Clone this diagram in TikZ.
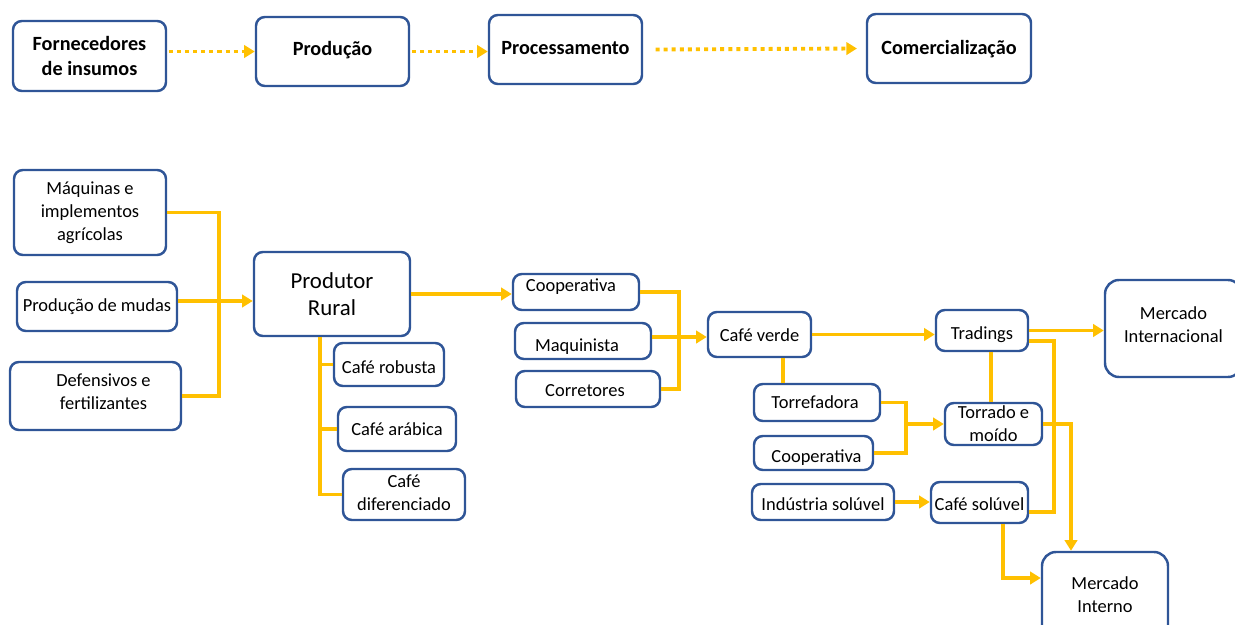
\documentclass[tikz,border=0pt]{standalone}
\usepackage{fontspec}
\setmainfont{Carlito}
\usetikzlibrary{arrows.meta}
\definecolor{bblue}{HTML}{2F5597}
\definecolor{cyel}{HTML}{FFC000}
% \bx[opts]{name}{x1}{y1}{x2}{y2}{text}{dx}{dy}
\newcommand\bx[9][]{%
  \node[box,#1,minimum width={(#5-#3)*0.02cm},minimum height={(#6-#4)*0.02cm}] (#2) at ({(#3+#5)/2},{(#4+#6)/2}) {};
  \node[txt,#1] (#2-t) at ({(#3+#5)/2+#8},{(#4+#6)/2+#9}) {#7};}
\tikzset{
  box/.style={draw=bblue,line width=1.4pt,rounded corners=5pt,fill=white,inner sep=0pt},
  txt/.style={align=center,inner sep=0pt,font=\fontsize{10.5}{13}\selectfont},
  top/.style={font=\fontsize{11.5}{14}\selectfont\bfseries},
  big/.style={rounded corners=8pt},
  con/.style={draw=cyel,line width=2pt},
  arr/.style={con,-{Triangle[length=6pt,width=7pt]}},
  dot/.style={draw=cyel,line width=2.2pt,dash pattern=on 2.3pt off 2.3pt,-{Triangle[length=6pt,width=7pt]}}
}
\begin{document}
\begin{tikzpicture}[x=0.02cm,y=-0.02cm]
\useasboundingbox (0,0) rectangle (1235,625);
\clip (0,0) rectangle (1235,625);
% top row
\bx[top]{fi}{13}{21}{166}{91}{Fornecedores\\de insumos}{0}{0}
\bx[top]{pd}{256}{17}{409}{86}{Produção}{0}{-1}
\bx[top]{pc}{489}{15}{642}{84}{Processamento}{0}{-1}
\bx[top]{cm}{867}{14}{1031}{83}{Comercialização}{0}{1}
\draw[dot] ([xshift=1pt]pd.west -| fi.east) -- (pd.west);
\draw[dot] ([xshift=1pt]pd.east) -- (pd.east -| pc.west);
\draw[dot] ([xshift=7pt]pc.east) -- ([xshift=-5pt]cm.west);
% bottom
\bx{mq}{14}{170}{166}{255}{Máquinas e\\implementos\\agrícolas}{0}{0}
\bx{pm}{17}{282}{177}{331}{Produção de mudas}{0}{0}
\bx{df}{10}{362}{181}{430}{Defensivos e\\fertilizantes}{8}{-4}
\bx[font=\fontsize{13}{15.5}\selectfont]{pr}{254}{252}{410}{336}{Produtor\\Rural}{0}{0}
\bx{cr}{334}{343}{444}{386}{Café robusta}{0}{3}
\bx{ca}{338}{407}{456}{451}{Café arábica}{0}{0}
\bx{cd}{343}{469}{465}{520}{Café\\diferenciado}{0}{-2}
\bx{co1}{513}{274}{639}{310}{Cooperativa}{-5}{-5}
\bx{mk}{515}{323}{651}{359}{Maquinista}{-6}{6}
\bx{ct}{516}{371}{660}{407}{Corretores}{-3}{2}
\bx{cv}{708}{312}{811}{357}{Café verde}{0}{1}
\bx{tf}{754}{384}{880}{421}{Torrefadora}{-2}{0}
\bx{co2}{754}{436}{873}{470}{Cooperativa}{3}{5}
\bx{is}{752}{484}{894}{520}{Indústria solúvel}{0}{2}
\bx{td}{936}{310}{1028}{351}{Tradings}{0}{4}
\bx{tm}{945}{403}{1042}{445}{Torrado e\\moído}{0}{0}
\bx{cs}{931}{482}{1028}{523}{Café solúvel}{0}{2}
\bx[big]{mi}{1105}{280}{1242}{377}{Mercado\\Internacional}{0}{-4}
\bx[big]{mn}{1042}{552}{1168}{640}{Mercado\\Interno}{0}{-1}
% connectors left
\coordinate (jL) at (219,301);
\draw[con] (mq.east) -| (jL);
\draw[con] (df.east) -| (jL);
\draw[con] (jL -| pm.east) -- (jL);
\draw[arr] (jL) -- (jL -| pr.west);
\draw[arr] (pr.east) -- (pr.east -| co1.west);
\coordinate (tr) at (320,0);
\draw[con] (pr.south -| tr) -- (cd.west -| tr) -- (cd.west);
\draw[con] (cr.west -| tr) -- (cr.west);
\draw[con] (ca.west -| tr) -- (ca.west);
% middle
\coordinate (jM) at (679,337);
\draw[con] (co1.east) -| (jM);
\draw[con] (ct.east) -| (jM);
\draw[con] (jM -| mk.east) -- (jM);
\draw[arr] (jM) -- (jM -| cv.west);
\draw[arr] (cv.east) -- (cv.east -| td.west);
\coordinate (vx) at (783,0);
\draw[con] (cv.south -| vx) -- (tf.north -| vx);
\coordinate (jT) at (906,424);
\draw[con] (tf.east) -| (jT);
\draw[con] (co2.east) -| (jT);
\draw[arr] (jT) -- (jT -| tm.west);
% right
\coordinate (vx2) at (991,0);
\draw[con] (td.south -| vx2) -- (tm.north -| vx2);
\draw[arr] (td.east) -- (td.east -| mi.west);
\coordinate (cR) at (1054,512);
\draw[con] ([yshift=-6pt]td.east) -| (cR) -- (cR -| cs.east);
\coordinate (vI) at (1071,0);
\draw[arr] (tm.east) -| (mn.north -| vI);
\draw[arr] (is.east) -- (is.east -| cs.west);
\coordinate (kS) at (1003,578);
\draw[arr] (cs.south -| kS) -- (kS) -- (kS -| mn.west);
\end{tikzpicture}
\end{document}
